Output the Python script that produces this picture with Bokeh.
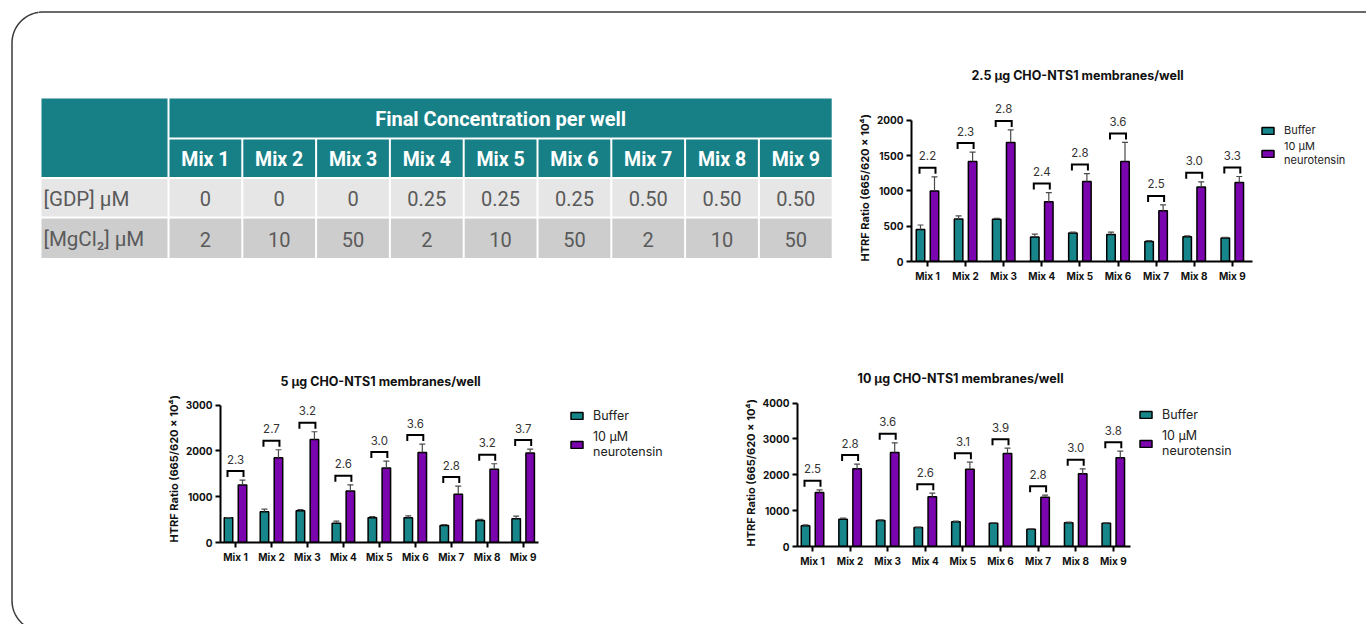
import numpy as np
from bokeh.plotting import figure
from bokeh.models import Range1d, FixedTicker, Legend, LegendItem, ColumnDataSource, Spacer, Title
from bokeh.layouts import row, column
from bokeh.embed import file_html
from bokeh.resources import INLINE
from bokeh.core.properties import value

# ---------------- data ----------------
mixes = ["Mix 1", "Mix 2", "Mix 3", "Mix 4", "Mix 5", "Mix 6", "Mix 7", "Mix 8", "Mix 9"]
table_header = "Final Concentration per well"
row_labels = ["[GDP] µM", "[MgCl₂] µM"]
gdp_uM = ["0", "0", "0", "0.25", "0.25", "0.25", "0.50", "0.50", "0.50"]
mgcl2_uM = ["2", "10", "50", "2", "10", "50", "2", "10", "50"]

series_labels = ["Buffer", "10 µM\nneurotensin"]
y_axis_label = "HTRF Ratio (665/620 x 10⁴)"

title_25 = "2.5 µg CHO-NTS1 membranes/well"
buffer_25 = [455, 602, 597, 346, 403, 384, 285, 351, 332]
buffer_err_25 = [62, 43, 14, 43, 14, 33, 12, 14, 9]
neuro_25 = [1000, 1417, 1687, 848, 1133, 1417, 720, 1057, 1118]
neuro_err_25 = [199, 133, 176, 128, 113, 270, 81, 71, 86]
ratio_25 = ["2.2", "2.3", "2.8", "2.4", "2.8", "3.6", "2.5", "3.0", "3.3"]

title_5 = "5 µg CHO-NTS1 membranes/well"
buffer_5 = [539, 670, 692, 422, 539, 539, 371, 481, 517]
buffer_err_5 = [7, 58, 29, 44, 29, 44, 22, 22, 58]
neuro_5 = [1253, 1850, 2251, 1122, 1624, 1966, 1056, 1602, 1952]
neuro_err_5 = [109, 175, 167, 138, 153, 183, 175, 117, 87]
ratio_5 = ["2.3", "2.7", "3.2", "2.6", "3.0", "3.6", "2.8", "3.2", "3.7"]

title_10 = "10 µg CHO-NTS1 membranes/well"
buffer_10 = [577, 763, 726, 530, 688, 651, 484, 660, 651]
buffer_err_10 = [28, 28, 18, 10, 19, 9, 9, 19, 9]
neuro_10 = [1507, 2167, 2623, 1386, 2158, 2595, 1377, 2028, 2474]
neuro_err_10 = [74, 131, 270, 102, 195, 149, 56, 139, 186]
ratio_10 = ["2.5", "2.8", "3.6", "2.6", "3.1", "3.9", "2.8", "3.0", "3.8"]

# ---------------- styles ----------------
TEAL = "#177f86"
BAR_TEAL = "#16868b"
PURPLE = "#7a04ad"
ROW1 = "#e6e6e6"
ROW2 = "#cdcdcd"
BORDER = "#3a3a3a"
FONT = "Inter"
TFONT = "Roboto"


def blank(width, height, xr, yr, top=0, bottom=0):
    p = figure(width=width, height=height, x_range=Range1d(*xr), y_range=Range1d(*yr),
               output_backend="svg", toolbar_location=None, min_border=0,
               min_border_top=top, min_border_bottom=bottom,
               x_axis_location=None, y_axis_location=None)
    p.grid.visible = False
    p.outline_line_color = None
    p.background_fill_color = "white"
    p.border_fill_color = "white"
    return p


# ---------------- rounded frame (screen pixel coordinates) ----------------
s = np.linspace(0, np.pi / 2, 30)
R = 31.0
bx = list(42.5 - R * np.sin(s)) + list(42.5 - R * np.cos(s)) + [1400]
by = list(600 + R * np.cos(s)) + list(42.5 - R * np.sin(s)) + [11.5]

left_strip = blank(38, 624, (0, 38), (624, 0))
left_strip.line(bx, by, line_color=BORDER, line_width=1.5)
top_strip = blank(1328, 38, (38, 1366), (38, 0))
top_strip.line(bx, by, line_color=BORDER, line_width=1.5)

# ---------------- table ----------------
# frame shares top/bottom borders with the neighbouring chart (row alignment)
tab = blank(810, 292, (38, 848), (261, 88), top=50, bottom=69)
col_x0, pitch, col_w = 169.0, 73.8, 71.8
lab_l, lab_r = 41.0, 167.0
h1 = (98.0, 137.0)
h2 = (139.0, 176.5)
r1 = (178.5, 216.0)
r2 = (218.0, 257.5)
ncol = len(mixes)
lefts = [col_x0 + i * pitch for i in range(ncol)]
rights = [l + col_w for l in lefts]
centers = [l + col_w / 2 for l in lefts]

tab.quad(left=[lab_l], right=[lab_r], top=[h1[0]], bottom=[h2[1]], fill_color=TEAL, line_color=None)
tab.quad(left=[col_x0], right=[rights[-1]], top=[h1[0]], bottom=[h1[1]], fill_color=TEAL, line_color=None)
tab.quad(left=lefts, right=rights, top=[h2[0]] * ncol, bottom=[h2[1]] * ncol, fill_color=TEAL, line_color=None)
tab.quad(left=[lab_l] + lefts, right=[lab_r] + rights, top=[r1[0]] * (ncol + 1), bottom=[r1[1]] * (ncol + 1),
         fill_color=ROW1, line_color=None)
tab.quad(left=[lab_l] + lefts, right=[lab_r] + rights, top=[r2[0]] * (ncol + 1), bottom=[r2[1]] * (ncol + 1),
         fill_color=ROW2, line_color=None)

tab.text(x=[(col_x0 + rights[-1]) / 2], y=[sum(h1) / 2 + 1], text=[table_header], text_align="center",
         text_baseline="middle", text_font=value(TFONT), text_font_size="20px", text_font_style="bold",
         text_color="white")
tab.text(x=centers, y=[sum(h2) / 2 + 1] * ncol, text=mixes, text_align="center", text_baseline="middle",
         text_font=value(TFONT), text_font_size="19.5px", text_font_style="bold", text_color="white")
tab.text(x=centers, y=[sum(r1) / 2 + 1] * ncol, text=gdp_uM, text_align="center", text_baseline="middle",
         text_font=value(TFONT), text_font_size="20px", text_color="#5a5a5a")
tab.text(x=centers, y=[sum(r2) / 2 + 1] * ncol, text=mgcl2_uM, text_align="center", text_baseline="middle",
         text_font=value(TFONT), text_font_size="20px", text_color="#5a5a5a")
tab.text(x=[lab_l + 2, lab_l + 2], y=[sum(r1) / 2 + 1, sum(r2) / 2 + 1], text=row_labels, text_align="left",
         text_baseline="middle", text_font=value(TFONT), text_font_size="20.5px", text_color="#5a5a5a")


# ---------------- bar charts ----------------
def bar_chart(title, buf, buf_err, neu, neu_err, ratios, axis_max, tick_step, g):
    fw = g["w"] - g["mbl"] - g["mbr"]
    fh = g["h"] - g["mbt"] - g["mbb"]
    ppx = g["ppx"]
    x0 = 1 - g["first_px"] / ppx
    x1 = x0 + fw / ppx
    ppy = g["axis_px"] / axis_max
    y1 = fh / ppy
    p = figure(width=g["w"], height=g["h"], x_range=Range1d(x0, x1), y_range=Range1d(0, y1),
               output_backend="svg", toolbar_location=None, title=title,
               min_border_left=g["mbl"], min_border_right=g["mbr"],
               min_border_top=g["mbt"], min_border_bottom=g["mbb"])
    p.grid.visible = False
    p.outline_line_color = None
    p.background_fill_color = "white"
    p.border_fill_color = "white"

    xs = np.arange(1, len(mixes) + 1, dtype=float)
    buf = np.array(buf, float)
    neu = np.array(neu, float)
    bt = buf + np.array(buf_err, float)
    nt = neu + np.array(neu_err, float)
    off = 7.0 / ppx
    xb = xs - off
    xn = xs + off
    bw = 8.5 / ppx
    cap = 3.0 / ppx
    src = ColumnDataSource(dict(x=xs, xb=xb, xn=xn, buf=buf, neu=neu, bt=bt, nt=nt))

    rb = p.vbar(x="xb", top="buf", bottom=0, width=bw, source=src, fill_color=BAR_TEAL,
                line_color="black", line_width=1.5)
    rn = p.vbar(x="xn", top="neu", bottom=0, width=bw, source=src, fill_color=PURPLE,
                line_color="black", line_width=1.5)
    # error bars (upper half)
    for xc, top, tt in ((xb, buf, bt), (xn, neu, nt)):
        p.segment(x0=xc, y0=top, x1=xc, y1=tt, line_color="#4a4a4a", line_width=1.2)
        p.segment(x0=xc - cap, y0=tt, x1=xc + cap, y1=tt, line_color="#4a4a4a", line_width=1.2)

    # brackets with fold-change labels
    gap = 9.0 / ppy
    leg = 6.0 / ppy
    half = 8.0 / ppx
    yb = nt + gap
    bxs = [[x - half, x - half, x + half, x + half] for x in xs]
    bys = [[y - leg, y, y, y - leg] for y in yb]
    p.multi_line(xs=bxs, ys=bys, line_color="black", line_width=2, line_join="miter")
    p.text(x=xs, y=yb + 12.0 / ppy, text=ratios, text_align="center", text_baseline="middle",
           text_font=value(FONT), text_font_size="11.5px", text_color="#333333")

    # axes
    xa = p.xaxis[0]
    ya = p.yaxis[0]
    xa.ticker = FixedTicker(ticks=[int(v) for v in xs])
    xa.major_label_overrides = {int(v): m for v, m in zip(xs, mixes)}
    xa.bounds = (x0, x0 + g["xaxis_px"] / ppx)
    ya.ticker = FixedTicker(ticks=list(range(0, axis_max + 1, tick_step)))
    ya.bounds = (0, axis_max)
    for ax in (xa, ya):
        ax.axis_line_width = 2
        ax.axis_line_color = "black"
        ax.major_tick_line_width = 2
        ax.major_tick_line_color = "black"
        ax.major_tick_out = 5
        ax.major_tick_in = 0
        ax.minor_tick_line_color = None
        ax.major_label_text_font = FONT
        ax.major_label_text_font_size = "10px"
        ax.major_label_text_font_style = "bold"
        ax.major_label_text_color = "#111111"
        ax.major_label_standoff = 3

    # y axis title, aligned with the bottom of the axis like the original
    ylab = Title(text=y_axis_label, align="left", offset=0, text_font=FONT, text_font_size="11px",
                 text_font_style="bold", text_color="#111111", standoff=3)
    p.add_layout(ylab, "left")

    p.title.align = "left"
    p.title.offset = 60
    p.title.text_font = FONT
    p.title.text_font_size = "12.5px"
    p.title.text_font_style = "bold"
    p.title.text_color = "#111111"
    p.title.standoff = g["tso"]

    legend = Legend(items=[LegendItem(label=value(series_labels[0]), renderers=[rb]),
                           LegendItem(label=value(series_labels[1]), renderers=[rn])],
                    location=(g["lx"], g["ly"]), orientation="vertical",
                    glyph_width=15, glyph_height=9, label_standoff=9, spacing=g["lsp"],
                    padding=0, margin=0, label_height=10,
                    label_text_font=FONT, label_text_font_size=g["lfs"], label_text_color="#222222",
                    background_fill_alpha=0, border_line_alpha=0)
    p.add_layout(legend)
    return p


# geometry in screen pixels (figure sizes, borders so that frames land where the reference has them)
g25 = dict(w=518, h=292, mbl=63, mbr=9, mbt=50, mbb=69, ppx=38.1, first_px=16, xaxis_px=340.7,
           axis_px=141.2, tso=11, lx=349, ly=94, lsp=2, lfs="11px")
g5 = dict(w=662, h=294, mbl=182, mbr=10, mbt=65, mbb=82, ppx=35.96, first_px=15, xaxis_px=318,
          axis_px=137.4, tso=13, lx=349, ly=83, lsp=6, lfs="12.5px")
g10 = dict(w=666, h=290, mbl=97, mbr=66, mbt=58, mbb=78, ppx=37.6, first_px=15, xaxis_px=333,
           axis_px=143.4, tso=14, lx=341, ly=88, lsp=6, lfs="12.5px")

c25 = bar_chart(title_25, buffer_25, buffer_err_25, neuro_25, neuro_err_25, ratio_25, 2000, 500, g25)
c5 = bar_chart(title_5, buffer_5, buffer_err_5, neuro_5, neuro_err_5, ratio_5, 3000, 1000, g5)
c10 = bar_chart(title_10, buffer_10, buffer_err_10, neuro_10, neuro_err_10, ratio_10, 4000, 1000, g10)

layout = row(left_strip,
             column(top_strip,
                    row(tab, c25),
                    row(c5, column(Spacer(width=666, height=4), c10))))

open("out.html", "w").write(file_html(layout, INLINE, "HTRF NTS1 assay"))
